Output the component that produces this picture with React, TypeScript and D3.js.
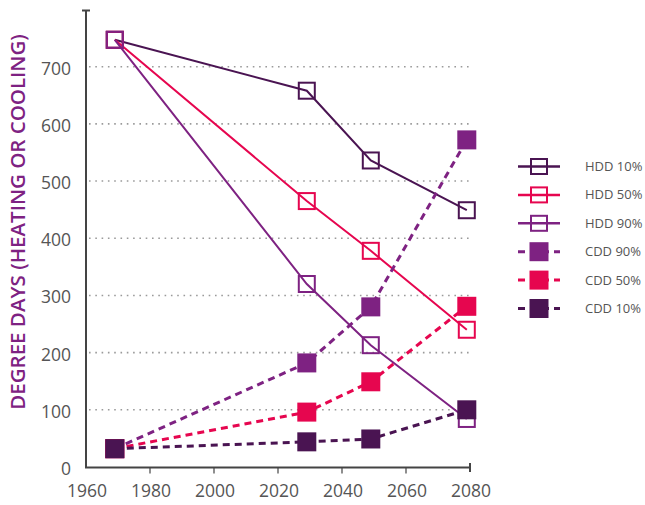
import React from "react";
import * as d3 from "d3";

const years = [1969, 2029, 2049, 2079];
const hdd10 = [747, 658, 536, 449];
const hdd50 = [747, 465, 378, 240];
const hdd90 = [747, 320, 213, 84];
const cdd90 = [32, 182, 280, 572];
const cdd50 = [32, 96, 149, 281];
const cdd10 = [32, 44, 49, 100];

const xTicks = [1960, 1980, 2000, 2020, 2040, 2060, 2080];
const yTicks = [0, 100, 200, 300, 400, 500, 600, 700];
const gridTicks = [100, 200, 300, 400, 500, 600, 700];

const DARK = "#4a1452";
const PINK = "#e6064f";
const PURPLE = "#7e2282";

type Series = { name: string; values: number[]; color: string; kind: "hdd" | "cdd" };

const series: Series[] = [
  { name: "HDD 10%", values: hdd10, color: DARK, kind: "hdd" },
  { name: "HDD 50%", values: hdd50, color: PINK, kind: "hdd" },
  { name: "HDD 90%", values: hdd90, color: PURPLE, kind: "hdd" },
  { name: "CDD 90%", values: cdd90, color: PURPLE, kind: "cdd" },
  { name: "CDD 50%", values: cdd50, color: PINK, kind: "cdd" },
  { name: "CDD 10%", values: cdd10, color: DARK, kind: "cdd" },
];

const FONT = "'Open Sans', 'DejaVu Sans', sans-serif";

export default function App() {
  const x = d3.scaleLinear().domain([1960, 2080]).range([86, 470]);
  const y = d3.scaleLinear().domain([0, 800]).range([467, 9.5]);
  const line = d3
    .line<[number, number]>()
    .x((d) => x(d[0]))
    .y((d) => y(d[1]));

  const axisColor = "#444";
  const y0 = y(0) + 0.5;

  const legendX0 = 518;
  const legendX1 = 560;
  const legendY0 = 166.5;
  const legendStep = 28.4;

  return (
    <svg
      width={645}
      height={505}
      style={{ position: "absolute", left: 0, top: 0, background: "#fff" }}
      fontFamily={FONT}
    >
      {/* grid */}
      {gridTicks.map((t) => (
        <line
          key={"g" + t}
          x1={89}
          x2={470}
          y1={y(t)}
          y2={y(t)}
          stroke="#9a9a9a"
          strokeWidth={1.6}
          strokeDasharray="1.6,4.7"
        />
      ))}

      {/* y axis */}
      <line x1={86} x2={86} y1={y(800) + 1} y2={y0} stroke={axisColor} strokeWidth={2} />
      <line x1={82} x2={90} y1={y(800) + 1} y2={y(800) + 1} stroke={axisColor} strokeWidth={2} />
      {yTicks.map((t) => (
        <text
          key={"yt" + t}
          x={71}
          y={y(t) + 8}
          textAnchor="end"
          fontSize={17.5}
          fill="#555"
        >
          {t}
        </text>
      ))}

      {/* x axis */}
      <line x1={85} x2={x(2080)} y1={y0} y2={y0} stroke={axisColor} strokeWidth={2} />
      <line x1={x(2080)} x2={x(2080)} y1={y0 - 4.5} y2={y0 + 4.5} stroke={axisColor} strokeWidth={2} />
      {xTicks.slice(1, -1).map((t) => (
        <line key={"xt" + t} x1={x(t)} x2={x(t)} y1={y0} y2={y0 + 6} stroke={axisColor} strokeWidth={1.2} />
      ))}
      {xTicks.map((t) => (
        <text key={"xl" + t} x={x(t) + 1} y={497} textAnchor="middle" fontSize={17.5} fill="#555">
          {t}
        </text>
      ))}

      {/* y title */}
      <text
        transform={`translate(24.5,222) rotate(-90)`}
        textAnchor="middle"
        fontSize={20.5}
        fontWeight={600}
        fill={PURPLE}
      >
        DEGREE DAYS (HEATING OR COOLING)
      </text>

      {/* series lines + markers */}
      {series.map((s) => {
        const pts = years.map((yr, i) => [yr, s.values[i]] as [number, number]);
        return (
          <g key={s.name}>
            <path
              d={line(pts) || ""}
              fill="none"
              stroke={s.color}
              strokeWidth={s.kind === "hdd" ? 2 : 3}
              strokeDasharray={s.kind === "cdd" ? "7,5" : undefined}
            />
            {pts.map((p, i) =>
              s.kind === "hdd" ? (
                <rect
                  key={i}
                  x={x(p[0]) - 8}
                  y={y(p[1]) - 8}
                  width={16}
                  height={16}
                  fill="none"
                  stroke={s.color}
                  strokeWidth={2}
                />
              ) : (
                <rect
                  key={i}
                  x={x(p[0]) - 9.5}
                  y={y(p[1]) - 9.5}
                  width={19}
                  height={19}
                  fill={s.color}
                />
              )
            )}
          </g>
        );
      })}

      {/* legend */}
      {series.map((s, i) => {
        const cy = legendY0 + i * legendStep;
        const cx = (legendX0 + legendX1) / 2;
        return (
          <g key={"lg" + s.name}>
            <line
              x1={legendX0}
              x2={legendX1}
              y1={cy}
              y2={cy}
              stroke={s.color}
              strokeWidth={s.kind === "hdd" ? 2.5 : 3}
              strokeDasharray={s.kind === "cdd" ? "7,5" : undefined}
            />
            {s.kind === "hdd" ? (
              <rect
                x={cx - 8}
                y={cy - 7.5}
                width={16}
                height={15}
                fill="none"
                stroke={s.color}
                strokeWidth={2}
              />
            ) : (
              <rect x={cx - 9.5} y={cy - 9.5} width={19} height={19} fill={s.color} />
            )}
            <text x={585} y={cy + 4.5} fontSize={13} fill="#555">
              {s.name}
            </text>
          </g>
        );
      })}
    </svg>
  );
}
